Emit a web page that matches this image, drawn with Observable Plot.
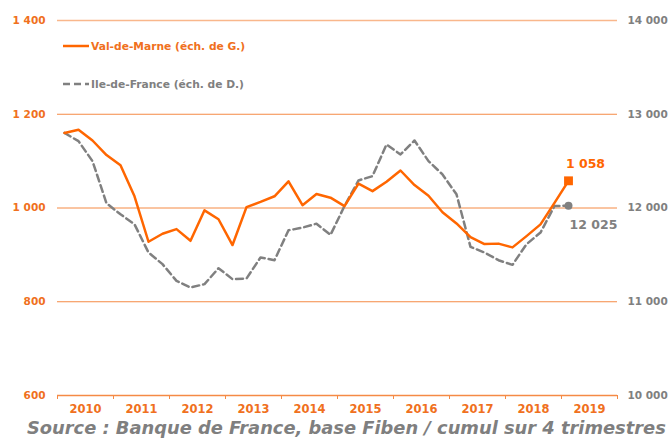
<!DOCTYPE html>
<html><head><meta charset="utf-8">
<script src="https://cdn.jsdelivr.net/npm/d3@7"></script>
<script src="https://cdn.jsdelivr.net/npm/@observablehq/plot@0.6"></script>
<style>
body{margin:0;background:#fff;}
#wrap{position:relative;width:672px;height:441px;overflow:hidden;}
.leg{position:absolute;left:63px;font-family:"DejaVu Sans";font-weight:bold;font-size:10.7px;display:flex;align-items:center;white-space:nowrap;}
.leg svg{margin-right:2px;}
#caption{position:absolute;left:27px;top:417px;font-family:"DejaVu Sans";font-weight:bold;font-style:italic;font-size:17.85px;color:#7f7f7f;white-space:nowrap;}
svg text{font-weight:bold;}
</style></head><body><div id="wrap"></div>
<script>
const quarters = ["2010T1","2010T2","2010T3","2010T4","2011T1","2011T2","2011T3","2011T4","2012T1","2012T2","2012T3","2012T4","2013T1","2013T2","2013T3","2013T4","2014T1","2014T2","2014T3","2014T4","2015T1","2015T2","2015T3","2015T4","2016T1","2016T2","2016T3","2016T4","2017T1","2017T2","2017T3","2017T4","2018T1","2018T2","2018T3","2018T4","2019T1"];
const valDeMarne = [1160,1167,1144,1113,1091,1025,928,945,955,930,995,976,921,1002,1013,1025,1057,1006,1030,1022,1004,1052,1036,1056,1080,1049,1026,991,967,938,923,924,916,940,965,1011,1058];
const ileDeFrance = [12801,12713,12500,12050,11933,11826,11525,11401,11223,11152,11188,11358,11241,11248,11472,11443,11762,11791,11833,11713,12021,12294,12340,12677,12571,12720,12500,12358,12146,11585,11525,11443,11394,11614,11738,12021,12025];
const years = [2010,2011,2012,2013,2014,2015,2016,2017,2018,2019];
const leftTicks = [600,800,1000,1200,1400];
const rightTicks = [10000,11000,12000,13000,14000];

const ORANGE = "#FF6600", TXT_OR = "#F07020", GRID = "#F58A45", GRAY = "#808080";
const fmt = v => d3.format(",")(v).replace(/,/g, " ");
const qt = s => +s.slice(0,4) + (+s.slice(5) - 0.5) / 4;
const toLeft = v => 600 + (v - 10000) * 0.2;
const data = quarters.map((q,i) => ({t: qt(q), vdm: valDeMarne[i], idf: ileDeFrance[i]}));
const last = [data[data.length-1]];

const chart = Plot.plot({
  width: 672, height: 418,
  marginLeft: 57, marginRight: 55, marginTop: 20, marginBottom: 23,
  style: {fontFamily: "DejaVu Sans", fontWeight: "bold", fontSize: "10.5px", background: "white", overflow: "visible"},
  x: {domain: [2010, 2020], axis: null},
  y: {domain: [600, 1400], axis: null},
  marks: [
    Plot.ruleY(leftTicks.slice(1, 4), {stroke: GRID, strokeWidth: 1}),
    Plot.ruleY([1400], {stroke: "#F9B78C", strokeWidth: 1.5}),
    Plot.ruleY([600], {stroke: GRID, strokeWidth: 1.5}),
    Plot.axisX({ticks: years.concat([2020]), tickSize: 4, tickFormat: () => "", stroke: GRID, label: null}),
    Plot.axisX({ticks: years.map(y => y + 0.5), tickSize: 0, tickPadding: 9, tickFormat: d => String(Math.floor(d)), fill: TXT_OR, fontSize: 11.5, label: null}),
    Plot.axisY({ticks: leftTicks, tickSize: 0, tickPadding: 12, tickFormat: fmt, fill: TXT_OR, label: null}),
    Plot.axisY({ticks: leftTicks, anchor: "right", tickSize: 0, tickPadding: 10, tickFormat: d => fmt(10000 + (d - 600) * 5), fill: GRAY, label: null}),
    Plot.line(data, {x: "t", y: d => toLeft(d.idf), stroke: GRAY, strokeWidth: 2.5, strokeDasharray: "7,4"}),
    Plot.line(data, {x: "t", y: "vdm", stroke: ORANGE, strokeWidth: 2.5}),
    Plot.dot(last, {x: "t", y: d => toLeft(d.idf), r: 4, fill: GRAY, stroke: null}),
    Plot.dot(last, {x: "t", y: "vdm", symbol: "square", r: 5, fill: ORANGE, stroke: null}),
    Plot.text(last, {x: "t", y: "vdm", text: d => fmt(d.vdm), dx: 17, dy: -17, fill: ORANGE, fontSize: 12.5}),
    Plot.text(last, {x: "t", y: d => toLeft(d.idf), text: d => fmt(d.idf), dx: 25, dy: 19, fill: GRAY, fontSize: 12.5})
  ]
});
const wrap = document.getElementById("wrap");
wrap.appendChild(chart);

const legend = [
  {label: "Val-de-Marne (éch. de G.)", color: ORANGE, dash: null, top: 39},
  {label: "Ile-de-France (éch. de D.)", color: GRAY, dash: "7,4", top: 77}
];
legend.forEach(l => {
  const d = document.createElement("div");
  d.className = "leg";
  d.style.top = l.top + "px";
  d.style.color = l.color === ORANGE ? TXT_OR : GRAY;
  d.innerHTML = `<svg width="26" height="14"><line x1="0" x2="26" y1="7" y2="7" stroke="${l.color}" stroke-width="2.5" ${l.dash ? `stroke-dasharray="${l.dash}"` : ""}/></svg>${l.label}`;
  wrap.appendChild(d);
});
const cap = document.createElement("div");
cap.id = "caption";
cap.textContent = "Source : Banque de France, base Fiben / cumul sur 4 trimestres";
wrap.appendChild(cap);
</script></body></html>
